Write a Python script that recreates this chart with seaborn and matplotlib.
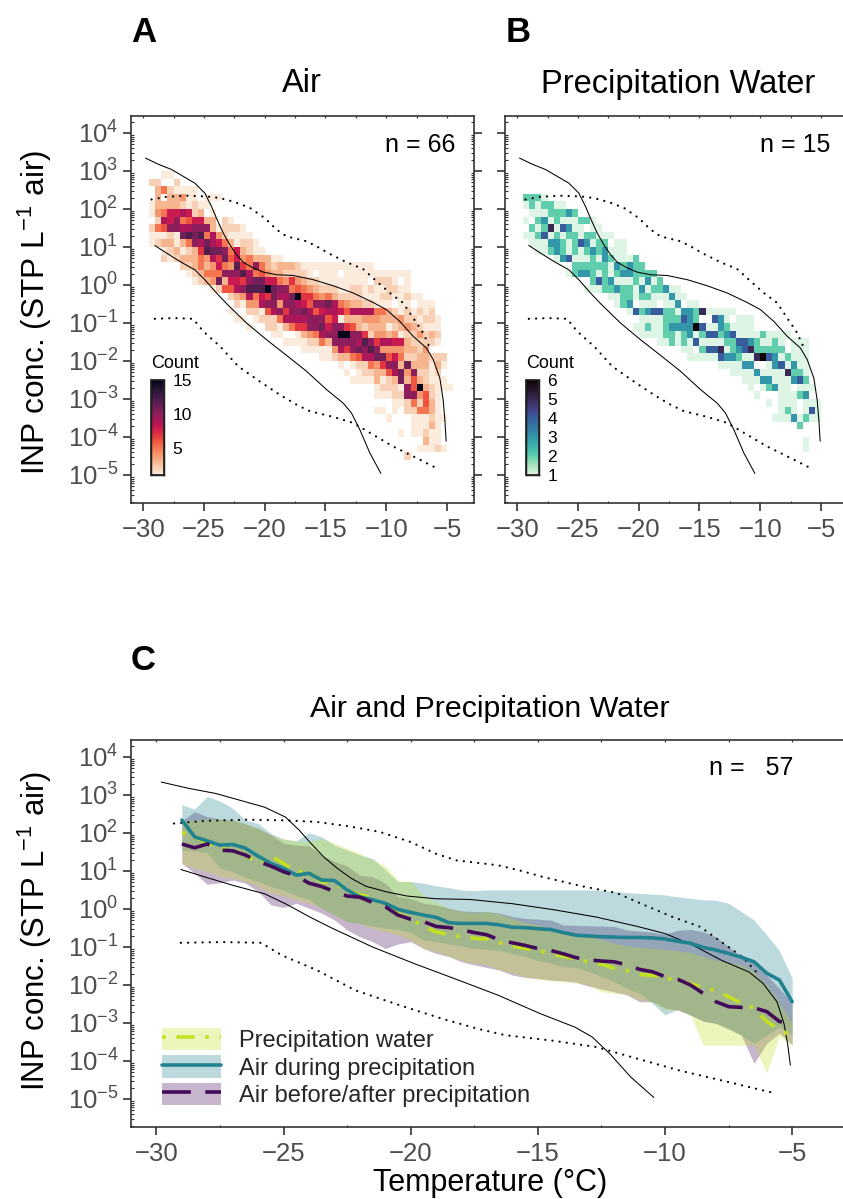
import numpy as np
import pandas as pd
import matplotlib
matplotlib.use("Agg")
import matplotlib.pyplot as plt
import seaborn as sns
from matplotlib.patches import Patch
from matplotlib.lines import Line2D
from matplotlib.legend_handler import HandlerTuple
from matplotlib.ticker import LogLocator, NullFormatter, FixedLocator

sns.set_theme(style="white")
plt.rcParams["font.family"] = ["Liberation Sans", "DejaVu Sans"]
plt.rcParams["mathtext.fontset"] = "custom"
plt.rcParams["mathtext.rm"] = "Liberation Sans"
plt.rcParams["mathtext.default"] = "regular"

# counts per cell: (row of the log10-concentration bin, first temperature bin, hex counts)
air_counts = [
    (0, 2, "11"), (1, 0, "22002"), (2, 1, "3521111"), (3, 1, "30334110111"),
    (4, 0, "1333321211"), (5, 0, "14588982301"), (6, 1, "298a568833021"),
    (7, 0, "256aa99aaa312221"), (8, 0, "11121bcbc59421111"), (9, 0, "1233135a9b98531221"),
    (10, 2, "1231237cbba583211"), (11, 2, "2123335497b684533311"),
    (12, 5, "223534854c75a5323332111111111111"),
    (13, 6, "123555aaac956433222210111011111111111"),
    (14, 7, "1234b3887abb88547432211111111022 2101"),
    (15, 10, "12669acccfbaa56543222112212112211"),
    (16, 13, "2349587b99bf77545322221112211211"),
    (17, 14, "21449aa4aa986aab9543322111 0110111"),
    (18, 13, "10022169a7aab968998699995532121212"),
    (19, 14, "110122259999aaa68133344433342 21221"),
    (20, 16, "1002213577aab8aa7632333123432111"),
    (21, 20, "110013459aaffaa7244341224232"),
    (22, 22, "11112253aaaa9ca79988322221"),
    (23, 25, "11111497abaca44443324"),
    (24, 28, "112335699bb6852233222"),
    (25, 31, "10122547aa3b333131"),
    (26, 32, "101223369b4a2212"),
    (27, 33, "11113123b3632111"),
    (28, 37, "12221a6f32111"),
    (29, 37, "11122aa4621"),
    (30, 40, "11252631"),
    (31, 37, "11010225531"),
    (32, 39, "1000111211"),
    (33, 43, "11131"),
    (34, 41, "1011211"),
    (35, 45, "311"),
    (36, 44, "11121"),
    (37, 42, "2"),
]
precip_counts = [
    (3, 0, "2221"), (4, 0, "1212211"), (5, 1, "11122232"), (6, 0, "102312111221"),
    (7, 1, "212514311011"), (8, 0, "112412122122111"), (9, 1, "1113321243122011"),
    (10, 2, "112321212323111"), (11, 5, "13411121321112"), (12, 8, "222222132322"),
    (13, 7, "123321212332222"), (14, 11, "242311121312"), (15, 10, "1112232213122311"),
    (16, 14, "1122122111311"), (17, 15, "12301110113011"), (18, 17, "142344221332511111"),
    (19, 19, "1111222432004310111"), (20, 18, "11211233336411321111"),
    (21, 19, "1111221231244234111121111"), (22, 22, "1121214111122443211 210111"),
    (23, 26, "110244512345222220111"), (24, 27, "11111433211564312111"),
    (25, 32, "111133001341311"), (26, 34, "1111311115221"), (27, 36, "11133111342"),
    (28, 37, "10123110111"), (29, 38, "100011123"), (30, 40, "101110111"),
    (31, 42, "1210141"), (32, 41, "11131211"), (33, 45, "2"), (35, 46, "1"), (36, 46, "1"),
]

# reference curves (temperature, log10 concentration)
upper_solid_t = [-29.81,-28.77,-27.67,-26.71,-25.75,-24.93,-24.38,-23.97,-23.42,-22.87,-22.32,-21.77,-20.95,-20.13,-19.03,-17.66,-16.01,-14.37,-12.72,-11.08,-9.98,-8.88,-7.78,-6.69,-6.14,-5.59,-5.32,-5.18,-5.07]
upper_solid_c = [3.34,3.18,3.04,2.86,2.68,2.42,2.07,1.76,1.37,1.06,0.80,0.60,0.45,0.34,0.27,0.25,0.14,-0.02,-0.21,-0.46,-0.65,-0.96,-1.35,-1.66,-1.96,-2.45,-3.02,-3.54,-4.11]
lower_solid_t = [-29.04,-28.08,-26.98,-25.75,-24.93,-23.97,-23.14,-21.50,-19.85,-18.21,-16.56,-14.92,-13.54,-12.86,-12.17,-11.35,-10.44]
lower_solid_c = [1.04,0.84,0.62,0.40,0.14,-0.21,-0.49,-1.00,-1.44,-1.85,-2.27,-2.75,-3.11,-3.37,-3.81,-4.42,-4.96]
upper_dot_t = [-29.31,-28.08,-26.43,-24.79,-23.69,-22.46,-21.22,-19.99,-19.03,-18.21,-16.56,-15.74,-14.78,-13.27,-11.90,-10.80,-9.70,-8.61,-7.78,-6.96,-6.41]
upper_dot_c = [2.25,2.32,2.35,2.33,2.29,2.18,2.03,1.76,1.46,1.28,1.15,1.02,0.84,0.60,0.42,0.10,-0.21,-0.47,-0.87,-1.26,-1.66]
lower_dot_t = [-29.04,-27.39,-25.89,-25.06,-23.69,-22.18,-20.40,-18.75,-17.38,-16.29,-14.37,-12.72,-11.08,-9.43,-7.78,-5.86]
lower_dot_c = [-0.89,-0.87,-0.89,-1.22,-1.61,-2.14,-2.54,-2.89,-3.15,-3.32,-3.47,-3.63,-3.94,-4.25,-4.51,-4.82]

# panel C, temperature -29 ... -5 in steps of 0.5, log10 concentration
temperature_c = list(np.arange(-29, -4.9, 0.5))
during_mean = [2.34,1.90,1.79,1.68,1.70,1.60,1.39,1.20,1.07,0.89,0.94,0.76,0.75,0.50,0.32,0.24,0.15,-0.01,-0.09,-0.16,-0.22,-0.36,-0.38,-0.38,-0.38,
               -0.42,-0.48,-0.49,-0.52,-0.54,-0.62,-0.69,-0.71,-0.73,-0.74,-0.75,-0.75,-0.76,-0.79,-0.85,-0.90,-1.01,-1.08,-1.17,-1.27,-1.39,-1.69,-1.87,-2.44]
during_high = [2.74,2.63,2.96,2.84,2.65,2.34,2.25,1.99,1.84,1.79,2.01,1.90,1.68,1.55,1.42,1.33,1.03,0.72,0.72,0.68,0.61,0.56,0.50,0.48,0.50,
               0.50,0.50,0.50,0.50,0.50,0.50,0.50,0.50,0.49,0.46,0.43,0.41,0.39,0.37,0.32,0.28,0.24,0.23,0.15,-0.07,-0.29,-0.68,-1.10,-1.82]
during_low = [1.55,1.53,1.48,1.07,0.98,0.83,0.72,0.59,0.50,0.35,0.25,0.02,-0.16,-0.33,-0.38,-0.45,-0.51,-0.54,-0.62,-0.82,-0.86,-0.92,-0.97,-1.04,-1.06,
              -1.10,-1.17,-1.25,-1.36,-1.43,-1.52,-1.54,-1.65,-1.78,-1.91,-2.09,-2.22,-2.48,-2.79,-2.64,-2.79,-2.95,-3.01,-3.17,-3.32,-3.54,-3.32,-3.10,-3.32]
water_mean = [2.01,1.90,1.73,1.60,1.55,1.42,1.20,1.39,1.20,0.98,0.98,0.72,0.68,0.50,0.37,0.31,0.06,-0.13,-0.25,-0.46,-0.60,-0.68,-0.73,-0.77,-0.79,
              -0.89,-0.97,-1.04,-1.09,-1.17,-1.25,-1.31,-1.40,-1.45,-1.56,-1.62,-1.72,-1.75,-1.80,-1.89,-1.97,-2.06,-2.15,-2.31,-2.48,-2.61,-2.96,-3.18,-3.34]
water_high = [2.32,2.34,2.37,2.37,2.34,2.25,2.12,1.95,1.84,1.79,1.77,1.86,1.73,1.60,1.46,1.29,1.13,0.75,0.72,0.37,0.17,0.02,-0.07,-0.10,-0.07,
              -0.13,-0.25,-0.36,-0.42,-0.51,-0.60,-0.67,-0.73,-0.80,-0.90,-0.97,-1.01,-1.03,-1.06,-1.10,-1.15,-1.25,-1.34,-1.41,-1.47,-1.65,-2.00,-2.48,-3.01]
water_low = [1.20,1.07,0.98,0.85,0.81,0.72,0.59,0.41,0.34,0.24,0.15,0.02,-0.16,-0.33,-0.38,-0.51,-0.60,-0.68,-0.82,-1.04,-1.12,-1.25,-1.36,-1.43,-1.47,
             -1.61,-1.69,-1.78,-1.85,-1.89,-1.91,-1.94,-2.00,-2.18,-2.22,-2.24,-2.39,-2.44,-2.66,-2.66,-2.79,-3.58,-3.58,-3.58,-3.58,-3.58,-4.32,-3.36,-3.58]
other_mean = [1.71,1.61,1.71,1.55,1.53,1.42,1.25,1.13,0.98,0.87,0.68,0.59,0.46,0.34,0.31,0.17,0.06,-0.16,-0.27,-0.33,-0.46,-0.49,-0.55,-0.62,-0.68,
              -0.82,-0.89,-0.96,-1.04,-1.09,-1.18,-1.28,-1.34,-1.37,-1.39,-1.47,-1.59,-1.65,-1.78,-1.85,-2.00,-2.22,-2.44,-2.57,-2.59,-2.60,-2.70,-2.96,-3.01]
other_high = [2.32,2.56,2.43,2.37,2.34,2.24,2.12,1.95,1.73,1.68,1.66,1.42,1.25,1.13,0.89,0.85,0.68,0.32,0.28,0.15,0.11,0.02,-0.05,-0.07,-0.07,
              -0.11,-0.20,-0.25,-0.27,-0.29,-0.42,-0.43,-0.44,-0.45,-0.46,-0.55,-0.58,-0.61,-0.66,-0.56,-0.54,-0.60,-0.73,-0.99,-1.25,-1.39,-1.74,-2.09,-2.48]
other_low = [1.20,0.94,0.65,0.69,0.76,0.68,0.46,0.11,0.04,0.15,0.02,-0.11,-0.29,-0.55,-0.73,-0.86,-1.04,-0.92,-0.86,-1.04,-1.17,-1.25,-1.39,-1.47,-1.54,
             -1.61,-1.74,-1.80,-1.83,-1.87,-1.89,-1.93,-2.03,-2.11,-2.18,-2.26,-2.44,-2.44,-2.61,-2.66,-2.79,-2.95,-3.01,-3.14,-3.32,-4.06,-3.54,-3.27,-3.58]

series_names = ["Precipitation water", "Air during precipitation", "Air before/after precipitation"]
series_colors = ["#C2E021", "#21838F", "#440A5A"]
x_ticks = [-30, -25, -20, -15, -10, -5]
x_minor = [-27.5, -22.5, -17.5, -12.5, -7.5]
decades = list(range(-5, 5))

W, H = 843, 1199
TEXT_GRAY = "#4D4D4D"
AXIS = "#333333"
YLABEL = "INP conc. (STP L$^{\u22121}$ air)"


def px_axes(left, top, right, bottom):
    return fig.add_axes([left / W, 1 - bottom / H, (right - left) / W, (bottom - top) / H])


def px_text(x, y, s, **kw):
    kw.setdefault("color", "black")
    kw.setdefault("va", "center")
    return fig.text(x / W, 1 - y / H, s, **kw)


def cells(rows):
    out = []
    for r, c0, digits in rows:
        for i, ch in enumerate(digits.replace(" ", "")):
            n = int(ch, 16)
            if n:
                out.append({"T": -29.25 + 0.5 * (c0 + i), "C": 10 ** (2.9 - 0.2 * r), "n": n})
    return pd.DataFrame(out)


def ref_curves(ax):
    for t, c, kw in [
        (upper_solid_t, upper_solid_c, dict(lw=0.75)),
        (lower_solid_t, lower_solid_c, dict(lw=0.75)),
        (upper_dot_t, upper_dot_c, dict(lw=1.6, dashes=(0.05, 3.2), dash_capstyle="round")),
        (lower_dot_t, lower_dot_c, dict(lw=1.6, dashes=(0.05, 3.2), dash_capstyle="round")),
    ]:
        d = pd.DataFrame({"T": t, "C": 10 ** np.array(c)})
        sns.lineplot(data=d, x="T", y="C", ax=ax, color="black", estimator=None, sort=False,
                     legend=False, **kw)


def style_axes(ax, xlim, ylim, right=True):
    ax.set_yscale("log")
    ax.set_xlim(*xlim)
    ax.set_ylim(*ylim)
    ax.set_xlabel("")
    ax.set_ylabel("")
    for s in ax.spines.values():
        s.set_visible(True)
        s.set_color(AXIS)
        s.set_linewidth(1.2)
    ax.spines["right"].set_visible(right)
    ax.set_xticks(x_ticks)
    ax.set_xticklabels(["\u2212%d" % abs(v) for v in x_ticks])
    ax.xaxis.set_minor_locator(FixedLocator(x_minor))
    ax.yaxis.set_major_locator(FixedLocator([10.0 ** d for d in decades]))
    ax.yaxis.set_minor_locator(LogLocator(base=10, subs=np.arange(2, 10), numticks=20))
    ax.yaxis.set_minor_formatter(NullFormatter())
    ax.set_yticklabels(["$10^{%d}$" % d if d >= 0 else "$10^{\u2212%d}$" % -d for d in decades])
    ax.tick_params(axis="x", which="major", length=6, width=1.2, color=AXIS, labelcolor=TEXT_GRAY,
                   labelsize=18.5, direction="out", top=False, bottom=True, pad=4.5)
    ax.tick_params(axis="y", which="major", length=6, width=1.2, color=AXIS, labelcolor=TEXT_GRAY,
                   labelsize=18.5, direction="out", left=True, right=right, pad=3)
    ax.tick_params(axis="x", which="minor", length=1.5, width=0.8, color=AXIS, direction="in",
                   top=False, bottom=True)
    ax.tick_params(axis="y", which="minor", length=2.2, width=0.8, color=AXIS, direction="in",
                   left=True, right=right)
    sec = ax.secondary_xaxis("top")
    sec.spines["top"].set_visible(False)
    sec.set_xticks(sorted(x_ticks + x_minor))
    sec.set_xticklabels([])
    sec.tick_params(direction="in", length=1.5, width=0.9, color=AXIS)


def heat(ax, rows, cmap, vmax, ticks, cax):
    sns.histplot(data=cells(rows), x="T", y="C", weights="n", ax=ax, log_scale=(False, True),
                 binwidth=(0.5, 0.2), binrange=((-29.5, -4.5), (-4.6, 3.0)),
                 cmap=cmap, vmin=1, vmax=vmax, cbar=True, cbar_ax=cax, cbar_kws=dict(ticks=ticks), zorder=1)
    cax.tick_params(length=2, width=0.6, direction="in", color="black", labelsize=12.5,
                    labelcolor="black", pad=6, right=True, left=True)
    for s in cax.spines.values():
        s.set_visible(True)
    for o in cax.findobj(lambda o: o.__class__.__name__ == "Spine"):
        o.set_color("black")
        o.set_linewidth(1.0)


fig = plt.figure(figsize=(W / 100, H / 100), dpi=100)
ylim = (10 ** -5.737, 10 ** 4.447)

# Panel A
axA = px_axes(131, 116, 474, 503)
caxA = px_axes(151, 380, 164, 475)
heat(axA, air_counts, sns.color_palette("rocket_r", as_cmap=True), 15, [5, 10, 15], caxA)
ref_curves(axA)
style_axes(axA, (-31, -2.78), ylim)
px_text(302, 84, "Air", fontsize=23.5, ha="center")
px_text(35, 312, YLABEL, fontsize=22.8, ha="center", rotation=90)
px_text(151, 364, "Count", fontsize=13)
px_text(455, 145, "n = 66", fontsize=18, ha="right")

# Panel B
axB = px_axes(505, 116, 848, 503)
caxB = px_axes(526, 380, 539, 475)
heat(axB, precip_counts, sns.color_palette("mako_r", as_cmap=True), 6, [1, 2, 3, 4, 5, 6], caxB)
ref_curves(axB)
style_axes(axB, (-31, -2.78), ylim)
axB.set_yticklabels([])
px_text(678, 84, "Precipitation Water", fontsize=23.5, ha="center")
px_text(526, 364, "Count", fontsize=13)
px_text(830, 145, "n = 15", fontsize=18, ha="right")

# Panel C
axC = px_axes(131, 740, 843, 1127)
bands = [(water_low, water_high), (during_low, during_high), (other_low, other_high)]
means = [water_mean, during_mean, other_mean]
for (lo, hi), col in list(zip(bands, series_colors))[::-1]:
    axC.fill_between(temperature_c, 10 ** np.array(lo), 10 ** np.array(hi), color=col, alpha=0.3, lw=0)
ref_curves(axC)
dash_sets = [(1, 3, 5, 3), None, (8, 4)]
for name, m, col, ds in zip(series_names, means, series_colors, dash_sets):
    d = pd.DataFrame({"T": temperature_c, "C": 10 ** np.array(m)})
    kw = dict(dashes=ds) if ds else {}
    sns.lineplot(data=d, x="T", y="C", ax=axC, color=col, lw=2.6, estimator=None, legend=False, **kw)
style_axes(axC, (-31, -3), ylim, right=False)
px_text(490, 709, "Air and Precipitation Water", fontsize=21.9, ha="center")
px_text(35, 931, YLABEL, fontsize=22.4, ha="center", rotation=90)
px_text(490, 1183, "Temperature (\u00b0C)", fontsize=22, ha="center")
px_text(793, 768, "n =   57", fontsize=18, ha="right")

handles = []
for col, ds in zip(series_colors, dash_sets):
    ln = Line2D([], [], color=col, lw=2.6)
    if ds:
        ln.set_dashes(ds)
    handles.append((Patch(facecolor=col, alpha=0.3, lw=0), ln))
leg = axC.legend(handles, series_names, handler_map={tuple: HandlerTuple(ndivide=1, pad=0)},
                 loc="lower left", bbox_to_anchor=((162 - 131) / 712, (1127 - 1107) / 387),
                 frameon=False, fontsize=17, labelspacing=0.13, handlelength=2.5, handleheight=1.1,
                 handletextpad=0.76, borderpad=0, borderaxespad=0)

px_text(131, 33, "A", fontsize=25, fontweight="bold")
px_text(506, 33, "B", fontsize=25, fontweight="bold")
px_text(131, 661, "C", fontsize=25, fontweight="bold")

fig.savefig("out.png", dpi=100)
